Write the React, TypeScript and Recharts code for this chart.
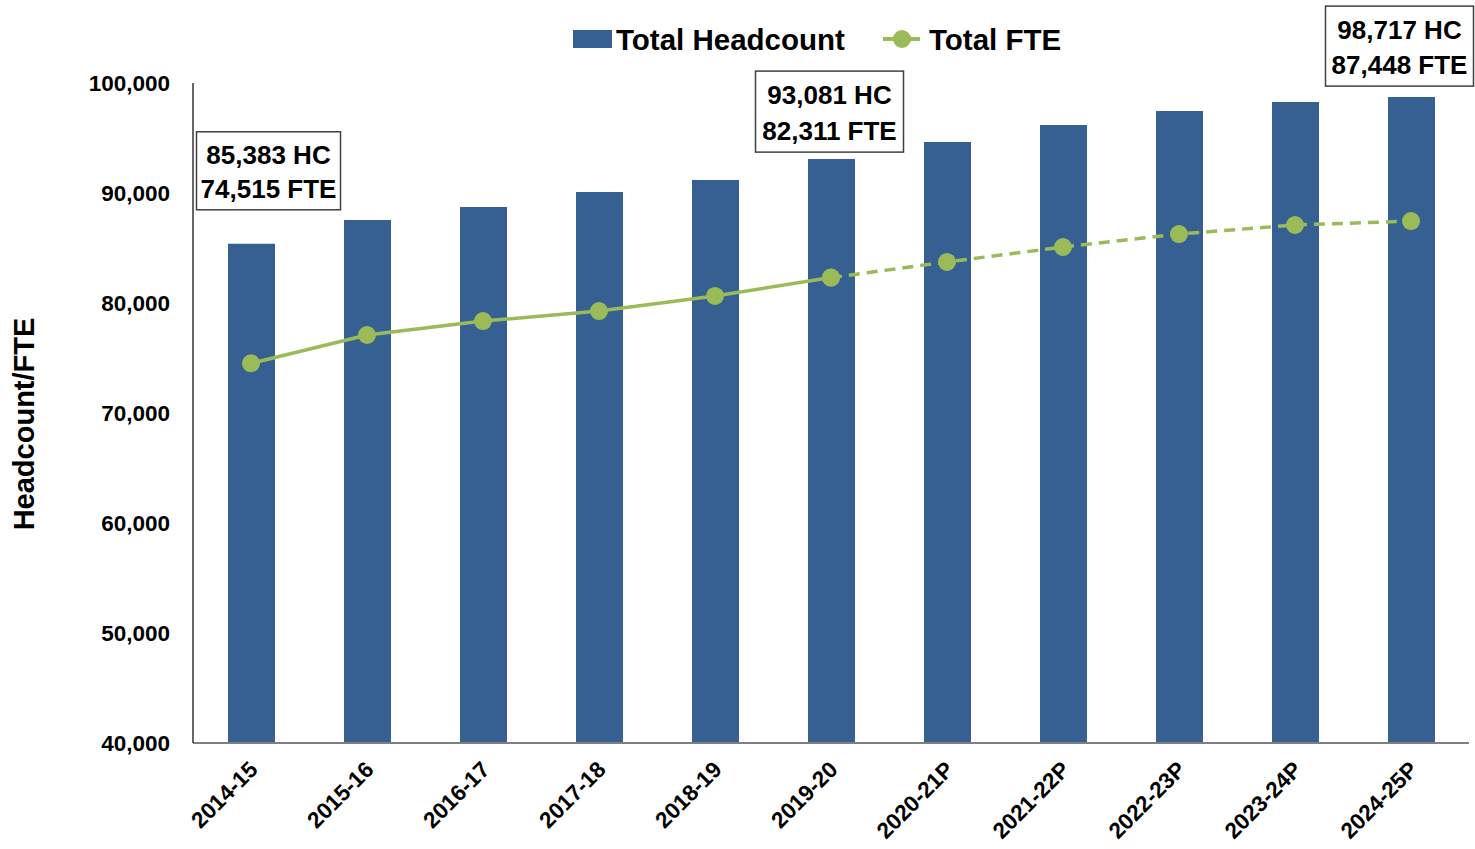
import React from 'react';
import { ComposedChart, Bar, Line, XAxis, YAxis, Legend, LabelList } from 'recharts';

const categories = ['2014-15', '2015-16', '2016-17', '2017-18', '2018-19', '2019-20', '2020-21P', '2021-22P', '2022-23P', '2023-24P', '2024-25P'];
const headcount = [85383, 87550, 88730, 90090, 91180, 93081, 94640, 96180, 97450, 98270, 98717];
const fteActual = [74515, 77090, 78360, 79270, 80640, 82311, null, null, null, null, null];
const fteProjected = [null, null, null, null, null, 82311, 83730, 85090, 86270, 87090, 87448];
const fteAll = [74515, 77090, 78360, 79270, 80640, 82311, 83730, 85090, 86270, 87090, 87448];
const yTicks = [40000, 50000, 60000, 70000, 80000, 90000, 100000];
const annotatedIndexes = [0, 5, 10];

const data = categories.map((c, i) => ({
  cat: c,
  hc: headcount[i],
  fteA: fteActual[i],
  fteP: fteProjected[i],
}));

const BAR = '#376092';
const GREEN = '#9BBB59';
const FONT = '"Liberation Sans", Arial, sans-serif';

const fmt = (v: number) => v.toLocaleString('en-US');

// box placement relative to bar center / bar top
const boxPlacement: Record<number, { dx: number; dy: number; w: number; h: number }> = {
  0: { dx: -55, dy: -112, w: 144, h: 78 },
  5: { dx: -76, dy: -88, w: 148, h: 81 },
  10: { dx: -86, dy: -91, w: 148, h: 80 },
};

const AnnotationLabel = (props: any) => {
  const { x, y, width, value } = props;
  let index = props.index;
  if (index === undefined || index === null) index = headcount.indexOf(value);
  if (!annotatedIndexes.includes(index)) return null;
  const p = boxPlacement[index];
  const cx = Number(x) + Number(width) / 2;
  const top = Number(y);
  const bx = cx + p.dx;
  const by = top + p.dy;
  const tx = bx + p.w / 2;
  return (
    <g>
      <rect x={bx} y={by} width={p.w} height={p.h} fill="#fff" stroke="#404040" strokeWidth={1.5} />
      <text x={tx} y={by + p.h * 0.32} textAnchor="middle" dominantBaseline="middle" fontFamily={FONT} fontWeight="bold" fontSize={26} fill="#000">
        {fmt(headcount[index])} HC
      </text>
      <text x={tx} y={by + p.h * 0.76} textAnchor="middle" dominantBaseline="middle" fontFamily={FONT} fontWeight="bold" fontSize={26} fill="#000">
        {fmt(fteAll[index] as number)} FTE
      </text>
    </g>
  );
};

const XTick = (props: any) => {
  const { x, y, payload } = props;
  return (
    <g transform={`translate(${x + 8},${y + 20})`}>
      <text textAnchor="end" transform="rotate(-45)" fontFamily={FONT} fontWeight="bold" fontSize={22.5} fill="#000">
        {payload.value}
      </text>
    </g>
  );
};

const YTick = (props: any) => {
  const { x, y, payload } = props;
  return (
    <text x={x - 15} y={y} dy={8} textAnchor="end" fontFamily={FONT} fontWeight="bold" fontSize={22.5} fill="#000">
      {fmt(payload.value)}
    </text>
  );
};

const LegendContent = () => (
  <svg width={520} height={40} style={{ display: 'block' }}>
    <rect x={0} y={10} width={39} height={18} fill={BAR} />
    <text x={43} y={30} fontFamily={FONT} fontWeight="bold" fontSize={29.5} fill="#000">Total Headcount</text>
    <line x1={310} y1={19} x2={347} y2={19} stroke={GREEN} strokeWidth={4} />
    <circle cx={329} cy={19} r={9} fill={GREEN} />
    <text x={356} y={30} fontFamily={FONT} fontWeight="bold" fontSize={29.5} fill="#000">Total FTE</text>
  </svg>
);

export default function App() {
  return (
    <div style={{ position: 'absolute', left: 0, top: 0, width: 1475, height: 849, background: '#fff' }}>
      <ComposedChart width={1475} height={849} data={data} margin={{ top: 43, right: 6, left: 0, bottom: 0 }} barCategoryGap={0}>
        <XAxis dataKey="cat" height={106} tick={<XTick />} tickLine={false} axisLine={{ stroke: '#7f7f7f', strokeWidth: 2 }} interval={0} />
        <YAxis
          width={193}
          domain={[40000, 100000]}
          ticks={yTicks}
          tick={<YTick />}
          tickLine={false}
          axisLine={{ stroke: '#000', strokeWidth: 1.2 }}
          label={{ value: 'Headcount/FTE', angle: -90, position: 'insideLeft', dx: 19, dy: 11, style: { fontFamily: FONT, fontWeight: 'bold', fontSize: 29, fill: '#000', textAnchor: 'middle' } }}
        />
        <Legend verticalAlign="top" height={40} content={<LegendContent />} wrapperStyle={{ position: 'absolute', left: 573, top: 20, width: 520 }} />
        <Bar dataKey="hc" fill={BAR} barSize={47} isAnimationActive={false}>
          <LabelList dataKey="hc" content={<AnnotationLabel />} />
        </Bar>
        <Line dataKey="fteA" stroke={GREEN} strokeWidth={3.5} dot={{ r: 9, fill: GREEN, stroke: 'none' }} activeDot={false} connectNulls={false} isAnimationActive={false} />
        <Line dataKey="fteP" stroke={GREEN} strokeWidth={3.5} strokeDasharray="11 7" dot={{ r: 9, fill: GREEN, stroke: 'none' }} activeDot={false} connectNulls={false} isAnimationActive={false} />
      </ComposedChart>
    </div>
  );
}
